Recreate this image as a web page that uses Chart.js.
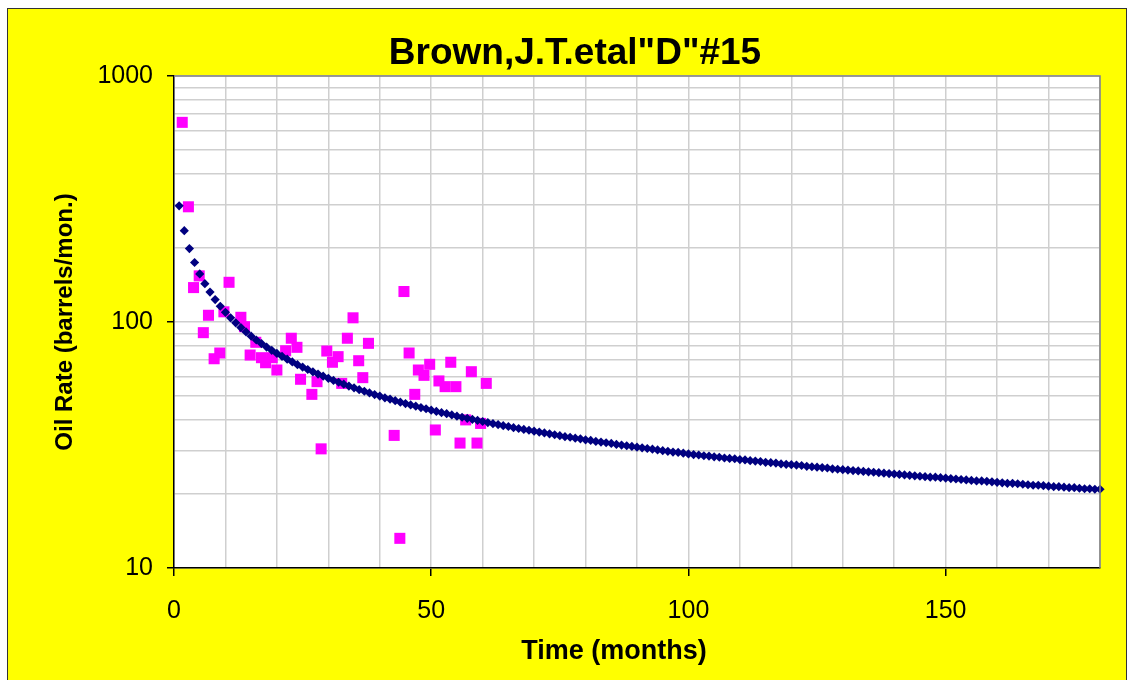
<!DOCTYPE html>
<html>
<head>
<meta charset="utf-8">
<script src="https://cdn.jsdelivr.net/npm/chart.js@4.4.1/dist/chart.umd.min.js"></script>
<style>
  html, body { margin: 0; padding: 0; background: #fff; }
  #frame {
    position: absolute; left: 7px; top: 8px; width: 1118px; height: 672px;
    background: #ffff00; border: 1px solid #333; border-bottom: none;
  }
  #chart { position: absolute; left: 0; top: 0; }
</style>
</head>
<body>
<div id="frame"></div>
<canvas id="chart" width="1129" height="680"></canvas>
<script>
// 實測資料 (月, 桶/月)
const actualMonths = [1.6, 2.8, 3.8, 4.9, 5.7, 6.7, 7.8, 8.9, 9.7, 10.7, 13.0, 13.7, 14.8, 15.9, 17.0, 17.8, 19.1, 20.0,
  21.7, 22.8, 23.9, 24.6, 26.8, 27.8, 28.6, 29.7, 30.8, 31.9, 32.6, 33.7, 34.8, 35.9, 36.7, 37.8,
  42.8, 43.9, 44.7, 45.7, 46.8, 47.5, 48.6, 49.7, 50.8, 51.5, 52.7, 53.8, 54.8, 55.6, 56.7, 57.8, 58.9, 59.6, 60.7];
const actualRate = [648, 294, 138, 154, 90.5, 106.5, 70.9, 74.8, 110, 145, 104.5, 95.7, 73.4, 82.7, 71.6, 68.3, 71.6, 63.8,
  76.4, 85.9, 78.9, 58.5, 50.8, 57.2, 30.5, 76.2, 68.6, 72.3, 56.3, 85.9, 104, 69.6, 59.4, 81.9,
  34.6, 13.2, 133, 74.8, 50.8, 63.8, 60.7, 67.3, 36.4, 57.6, 54.6, 68.6, 54.6, 32.2, 40.0, 62.8, 32.2, 38.7, 56.3];

// 擬合曲線 (第 1 ~ 180 月)
const fitRate = [
  296.7, 235.0, 198.9, 174.5, 156.8, 143.1, 132.3, 123.4, 115.9, 109.5,
  104.0, 99.2, 94.9, 91.1, 87.6, 84.5, 81.7, 79.1, 76.7, 74.5,
  72.5, 70.6, 68.8, 67.1, 65.6, 64.1, 62.7, 61.4, 60.2, 59.0,
  57.9, 56.9, 55.9, 54.9, 54.0, 53.1, 52.3, 51.5, 50.7, 50.0,
  49.2, 48.6, 47.9, 47.2, 46.6, 46.0, 45.5, 44.9, 44.4, 43.8,
  43.3, 42.8, 42.4, 41.9, 41.4, 41.0, 40.6, 40.2, 39.8, 39.4,
  39.0, 38.6, 38.3, 37.9, 37.6, 37.2, 36.9, 36.6, 36.3, 36.0,
  35.7, 35.4, 35.1, 34.8, 34.5, 34.2, 34.0, 33.7, 33.5, 33.2,
  33.0, 32.7, 32.5, 32.3, 32.1, 31.8, 31.6, 31.4, 31.2, 31.0,
  30.8, 30.6, 30.4, 30.2, 30.0, 29.8, 29.6, 29.5, 29.3, 29.1,
  28.9, 28.8, 28.6, 28.5, 28.3, 28.2, 28.0, 27.9, 27.8, 27.6,
  27.5, 27.3, 27.2, 27.1, 26.9, 26.8, 26.7, 26.5, 26.4, 26.3,
  26.2, 26.1, 25.9, 25.8, 25.7, 25.6, 25.5, 25.3, 25.2, 25.1,
  25.0, 24.9, 24.8, 24.7, 24.6, 24.5, 24.4, 24.3, 24.2, 24.1,
  24.0, 23.9, 23.8, 23.7, 23.6, 23.5, 23.4, 23.4, 23.3, 23.2,
  23.1, 23.0, 22.9, 22.8, 22.7, 22.6, 22.6, 22.5, 22.4, 22.3,
  22.2, 22.1, 22.1, 22.0, 21.9, 21.8, 21.7, 21.7, 21.6, 21.5,
  21.4, 21.4, 21.3, 21.2, 21.2, 21.1, 21.0, 21.0, 20.9, 20.9
];

const yGridValues = [10, 20, 30, 40, 50, 60, 70, 80, 90, 100, 200, 300, 400, 500, 600, 700, 800, 900, 1000];
const yLabelValues = [10, 100, 1000];
const xLabelValues = [0, 50, 100, 150];

const titleText = 'Brown,J.T.etal"D"#15';
const xTitle = 'Time (months)';
const yTitle = 'Oil Rate (barrels/mon.)';

const FONT = '"Liberation Sans", Arial, sans-serif';

// 背景與標題
const decor = {
  id: 'decor',
  beforeDraw(chart) {
    const { ctx, chartArea: a } = chart;
    ctx.save();
    ctx.fillStyle = '#fff';
    ctx.fillRect(a.left, a.top, a.right - a.left, a.bottom - a.top);
    ctx.restore();
  },
  afterDraw(chart) {
    const { ctx, chartArea: a } = chart;
    ctx.save();
    ctx.strokeStyle = '#808080';
    ctx.lineWidth = 1.5;
    ctx.beginPath();
    ctx.moveTo(a.left, a.top);
    ctx.lineTo(a.right, a.top);
    ctx.lineTo(a.right, a.bottom);
    ctx.stroke();

    ctx.fillStyle = '#000';
    ctx.textAlign = 'center';
    ctx.textBaseline = 'middle';
    ctx.font = 'bold 37px ' + FONT;
    ctx.fillText(titleText, 575, 54);
    ctx.font = 'bold 27px ' + FONT;
    ctx.fillText(xTitle, 614, 652);
    ctx.font = 'bold 24px ' + FONT;
    ctx.translate(65, (a.top + a.bottom) / 2);
    ctx.rotate(-Math.PI / 2);
    ctx.fillText(yTitle, 0, 0);
    ctx.restore();
  }
};

new Chart(document.getElementById('chart'), {
  type: 'scatter',
  data: {
    datasets: [
      {
        label: 'fit',
        data: fitRate.map((v, i) => ({ x: i + 1, y: v })),
        pointStyle: 'rectRot',
        pointRadius: 4.6,
        backgroundColor: '#000080',
        borderColor: '#000080',
        borderWidth: 0,
        clip: false
      },
      {
        label: 'actual',
        data: actualMonths.map((m, i) => ({ x: m, y: actualRate[i] })),
        pointStyle: 'rect',
        pointRadius: 7.8,
        backgroundColor: '#ff00ff',
        borderColor: '#ff00ff',
        borderWidth: 0,
        clip: false
      }
    ]
  },
  options: {
    responsive: false,
    animation: false,
    events: [],
    layout: { padding: { top: 76, right: 29, left: 0, bottom: 0 } },
    plugins: { legend: { display: false }, tooltip: { enabled: false } },
    scales: {
      x: {
        type: 'linear',
        min: 0,
        max: 180,
        afterFit: s => { s.height = 112; },
        border: { color: '#000', width: 1.5 },
        grid: {
          color: '#cfcfcf',
          lineWidth: 1.5,
          tickLength: 8,
          tickColor: c => xLabelValues.includes(c.tick.value) ? '#000' : 'rgba(0,0,0,0)'
        },
        ticks: {
          stepSize: 10,
          autoSkip: false,
          maxRotation: 0,
          padding: 20,
          color: '#000',
          font: { family: FONT, size: 25 },
          callback: v => xLabelValues.includes(v) ? String(v) : ''
        }
      },
      y: {
        type: 'logarithmic',
        min: 10,
        max: 1000,
        afterFit: s => { s.width = 174; },
        afterBuildTicks: s => { s.ticks = yGridValues.map(v => ({ value: v })); },
        border: { color: '#000', width: 1.5 },
        grid: {
          color: '#cfcfcf',
          lineWidth: 1.5,
          tickLength: 7,
          tickColor: c => yLabelValues.includes(c.tick.value) ? '#000' : 'rgba(0,0,0,0)'
        },
        ticks: {
          autoSkip: false,
          padding: 14,
          color: '#000',
          font: { family: FONT, size: 25 },
          callback: v => yLabelValues.includes(v) ? String(v) : ''
        }
      }
    }
  },
  plugins: [decor]
});
</script>
</body>
</html>
